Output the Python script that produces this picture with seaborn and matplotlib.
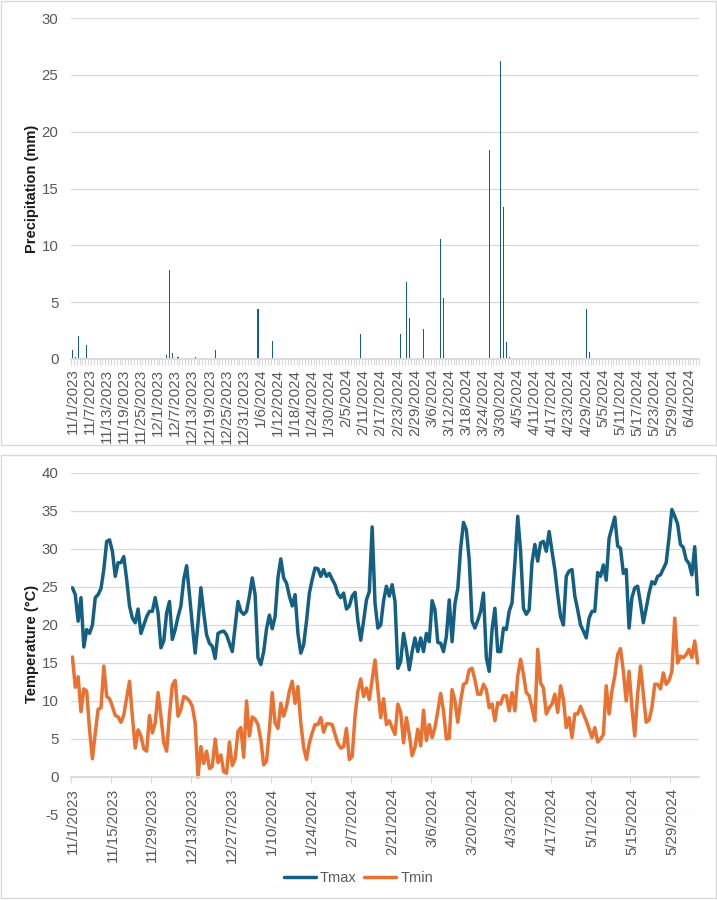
import numpy as np
import pandas as pd
import matplotlib
matplotlib.use("Agg")
import matplotlib.pyplot as plt
from matplotlib.patches import Rectangle
import seaborn as sns

# daily series, 11/1/2023 .. 6/7/2024
dates = pd.date_range("2023-11-01", "2024-06-07", freq="D")

precip = [0.8, 0.15, 2.0, 0.1, 0.1, 1.2, 0, 0, 0, 0,
          0, 0, 0, 0, 0, 0, 0, 0, 0, 0,
          0, 0, 0, 0, 0, 0, 0, 0, 0, 0,
          0, 0.1, 0, 0.35, 7.8, 0.55, 0, 0.2, 0, 0,
          0, 0, 0, 0.2, 0, 0, 0, 0, 0, 0,
          0.8, 0, 0, 0, 0, 0, 0, 0, 0, 0,
          0, 0, 0, 0, 0, 4.4, 0, 0, 0, 0,
          1.6, 0, 0, 0, 0, 0, 0, 0, 0, 0,
          0, 0, 0, 0, 0, 0, 0, 0, 0, 0,
          0, 0, 0, 0, 0, 0, 0, 0, 0, 0,
          0, 2.2, 0, 0, 0, 0, 0, 0, 0, 0,
          0, 0, 0, 0, 0, 2.2, 0.1, 6.8, 3.6, 0,
          0, 0.1, 0, 2.6, 0.1, 0, 0, 0, 0, 10.6,
          5.4, 0.1, 0, 0, 0, 0, 0, 0, 0, 0,
          0, 0, 0, 0, 0, 0, 18.4, 0, 0, 0,
          26.2, 13.4, 1.5, 0.15, 0, 0, 0.1, 0, 0, 0,
          0, 0, 0, 0, 0, 0, 0, 0, 0, 0,
          0, 0, 0, 0, 0, 0, 0, 0, 0, 0,
          4.4, 0.6, 0, 0, 0, 0, 0, 0, 0, 0,
          0, 0, 0, 0, 0, 0, 0, 0, 0, 0,
          0, 0, 0, 0, 0, 0, 0, 0, 0, 0,
          0, 0, 0, 0, 0, 0, 0, 0, 0, 0]

tmax = [24.9, 24.0, 20.5, 23.6, 17.1, 19.4, 18.9, 20.0, 23.6, 24.0,
        24.8, 27.3, 31.0, 31.2, 29.7, 26.4, 28.2, 28.2, 29.0, 26.0,
        22.5, 20.9, 20.3, 22.1, 18.9, 20.0, 21.1, 21.8, 21.8, 23.6,
        21.6, 17.0, 17.9, 21.6, 23.1, 18.1, 19.4, 21.1, 22.5, 26.0,
        27.8, 24.0, 20.0, 16.3, 20.3, 24.9, 21.6, 18.7, 17.6, 17.2,
        15.6, 18.9, 19.1, 19.2, 18.7, 17.6, 16.5, 19.8, 23.1, 21.8,
        21.4, 21.8, 23.8, 26.2, 24.0, 15.7, 14.8, 16.5, 19.5, 21.3,
        19.5, 21.1, 26.2, 28.7, 26.2, 25.5, 23.8, 22.5, 24.0, 18.9,
        16.3, 17.4, 20.5, 24.2, 26.0, 27.5, 27.4, 26.4, 27.3, 26.4,
        26.8, 26.0, 25.3, 24.1, 23.6, 24.2, 22.1, 22.5, 23.8, 24.3,
        20.5, 18.0, 20.5, 23.3, 24.4, 32.9, 22.9, 19.6, 20.0, 23.2,
        25.1, 23.8, 25.3, 23.1, 14.3, 15.2, 18.9, 16.8, 14.1, 16.5,
        18.3, 16.5, 18.3, 16.5, 18.9, 17.8, 23.2, 22.0, 17.7, 17.6,
        16.5, 18.5, 23.3, 17.8, 22.8, 24.8, 30.1, 33.5, 32.5, 28.6,
        20.5, 19.6, 20.6, 21.8, 24.2, 15.7, 13.9, 19.4, 22.2, 16.5,
        16.5, 19.6, 19.4, 21.8, 22.9, 28.2, 34.3, 29.7, 22.2, 21.4,
        22.0, 28.2, 30.6, 28.4, 30.8, 31.0, 29.7, 32.3, 29.7, 27.3,
        24.0, 21.1, 20.0, 26.4, 27.1, 27.3, 23.8, 22.0, 20.0, 19.2,
        18.3, 20.9, 21.8, 21.8, 26.9, 26.4, 27.9, 25.9, 31.4, 32.8,
        34.2, 30.4, 30.1, 26.8, 27.3, 19.6, 23.6, 24.9, 25.1, 22.9,
        20.3, 22.2, 24.2, 25.7, 25.4, 26.4, 26.6, 27.4, 28.2, 31.5,
        35.2, 34.3, 33.3, 30.6, 30.2, 28.6, 28.1, 26.6, 30.3, 24.0]

tmin = [15.8, 11.8, 13.2, 8.6, 11.6, 11.3, 6.2, 2.4, 5.8, 8.9,
        9.1, 14.6, 10.6, 10.3, 9.3, 8.1, 7.9, 7.2, 8.2, 10.4,
        12.6, 8.0, 3.8, 6.2, 5.4, 3.7, 3.4, 8.1, 5.8, 7.1,
        11.1, 8.0, 4.5, 3.4, 8.2, 12.1, 12.7, 8.0, 8.9, 10.6,
        10.4, 10.0, 9.3, 7.1, 0.0, 4.0, 1.8, 3.4, 1.1, 1.4,
        5.0, 1.9, 2.9, 0.7, 0.5, 4.6, 1.5, 2.4, 6.0, 6.5,
        2.6, 10.0, 5.4, 7.9, 7.6, 6.9, 4.9, 1.6, 2.1, 6.2,
        11.1, 7.1, 6.4, 9.7, 8.0, 9.3, 11.3, 12.6, 9.7, 11.9,
        7.1, 3.9, 2.3, 4.5, 5.8, 6.9, 6.9, 7.8, 5.9, 7.0,
        7.0, 6.9, 5.6, 4.4, 3.8, 4.0, 6.4, 2.3, 2.7, 8.0,
        11.3, 12.9, 10.6, 11.7, 10.2, 12.8, 15.4, 11.5, 7.8, 10.3,
        6.9, 7.4, 6.5, 5.6, 9.6, 8.5, 4.5, 7.8, 5.6, 2.8,
        3.9, 6.3, 4.1, 8.8, 4.8, 6.9, 5.2, 6.5, 8.7, 11.0,
        8.7, 5.0, 5.1, 11.5, 10.0, 7.2, 10.0, 12.2, 12.4, 14.1,
        14.3, 12.8, 10.9, 10.9, 12.2, 11.5, 9.1, 9.6, 7.4, 9.8,
        9.6, 10.7, 10.7, 8.7, 11.1, 8.7, 13.3, 15.5, 13.5, 11.1,
        10.7, 9.1, 7.4, 16.8, 12.4, 11.7, 8.3, 9.1, 9.6, 10.9,
        8.5, 12.0, 10.2, 6.5, 7.8, 5.2, 8.3, 8.3, 9.3, 8.3,
        7.4, 6.3, 5.2, 6.5, 4.6, 5.0, 5.6, 12.0, 8.3, 11.3,
        13.3, 16.1, 16.9, 13.9, 10.0, 13.9, 9.1, 5.4, 10.9, 14.6,
        10.9, 7.2, 7.5, 9.1, 12.2, 12.2, 11.6, 13.7, 12.2, 12.7,
        13.9, 20.9, 15.0, 15.9, 15.7, 16.1, 16.8, 15.7, 17.9, 15.0]

date_labels = [f"{d.month}/{d.day}/{d.year}" for d in dates]
df = pd.DataFrame({"day": np.arange(len(dates)), "Precip": precip,
                   "Tmax": tmax, "Tmin": tmin})

sns.set_theme(style="white")
plt.rcParams["font.family"] = ["Liberation Sans", "DejaVu Sans"]
plt.rcParams["axes.unicode_minus"] = False

GRID = "#d9d9d9"
TXT = "#595959"
W, H = 717, 900

def box(x0, y0, x1, y1):
    return [x0 / W, 1 - y1 / H, (x1 - x0) / W, (y1 - y0) / H]

fig = plt.figure(figsize=(7.17, 9.0), dpi=100)

# chart frames
for y0, y1 in [(1, 445), (455, 898)]:
    fig.patches.append(Rectangle((1 / W, 1 - y1 / H), 715 / W, (y1 - y0) / H,
                                 transform=fig.transFigure, fill=False,
                                 edgecolor=GRID, lw=1))

n = len(dates)

# ---- precipitation ----
ax1 = fig.add_axes(box(71, 18, 699, 359))
sns.barplot(data=df, x="day", y="Precip", color="#156082", saturation=1,
            width=0.4, errorbar=None, linewidth=0, edgecolor="none", ax=ax1)
ax1.set_xlim(-0.5, n - 0.5)
ax1.set_ylim(0, 30)
ax1.set_yticks(range(0, 31, 5))
ax1.yaxis.grid(True, color=GRID, lw=0.9)
ax1.set_axisbelow(True)
for s in ["top", "right", "left"]:
    ax1.spines[s].set_visible(False)
ax1.spines["bottom"].set_color(GRID)
top_ticks = list(range(0, n, 6))
ax1.set_xticks(top_ticks)
ax1.set_xticklabels([date_labels[i] for i in top_ticks], rotation=90)
ax1.set_xticks(np.arange(-0.5, n, 1), minor=True)
ax1.tick_params(axis="x", which="major", length=0, pad=7, labelsize=10.8, labelcolor=TXT)
ax1.tick_params(axis="x", which="minor", length=4, width=0.8, color=GRID, bottom=True)
ax1.tick_params(axis="y", length=0, pad=9, labelsize=10.8, labelcolor=TXT)
ax1.set_xlabel("")
ax1.set_ylabel("Precipitation (mm)", fontsize=10.5, fontweight="bold", color="#1a1a1a")
ax1.yaxis.set_label_coords(-32 / 628, 0.5)

# ---- temperature ----
ax2 = fig.add_axes(box(71, 473, 699, 815))
sns.lineplot(data=df, x="day", y="Tmax", color="#156082", lw=2.5,
             label="Tmax", ax=ax2, solid_joinstyle="round")
sns.lineplot(data=df, x="day", y="Tmin", color="#E97132", lw=2.5,
             label="Tmin", ax=ax2, solid_joinstyle="round")
ax2.set_xlim(-0.5, n - 0.5)
ax2.set_ylim(-5, 40)
ax2.set_yticks(range(-5, 41, 5))
ax2.yaxis.grid(True, color=GRID, lw=0.9)
ax2.set_axisbelow(True)
for s in ["top", "right", "left"]:
    ax2.spines[s].set_visible(False)
ax2.spines["bottom"].set_position(("data", 0))
ax2.spines["bottom"].set_color(GRID)
bot_ticks = list(range(0, n, 14))
ax2.set_xticks(bot_ticks)
ax2.set_xticklabels([date_labels[i] for i in bot_ticks], rotation=90)
ax2.set_xticks([i - 0.5 for i in bot_ticks], minor=True)
ax2.tick_params(axis="x", which="major", length=0, pad=8, labelsize=10.8, labelcolor=TXT)
ax2.tick_params(axis="x", which="minor", length=4, width=0.8, color=GRID, bottom=True)
ax2.tick_params(axis="y", length=0, pad=9, labelsize=10.8, labelcolor=TXT)
ax2.set_xlabel("")
ax2.set_ylabel("Temperature (°C)", fontsize=10.5, fontweight="bold", color="#1a1a1a")
ax2.yaxis.set_label_coords(-32 / 628, 0.5)
ax2.legend(loc="center", bbox_to_anchor=(0.5, 1 - 878 / H), bbox_transform=fig.transFigure,
           ncol=2, frameon=False, fontsize=10.5, handlelength=2.2, columnspacing=0.5,
           handletextpad=0.3, labelcolor=TXT)

fig.savefig("out.png", dpi=100)
